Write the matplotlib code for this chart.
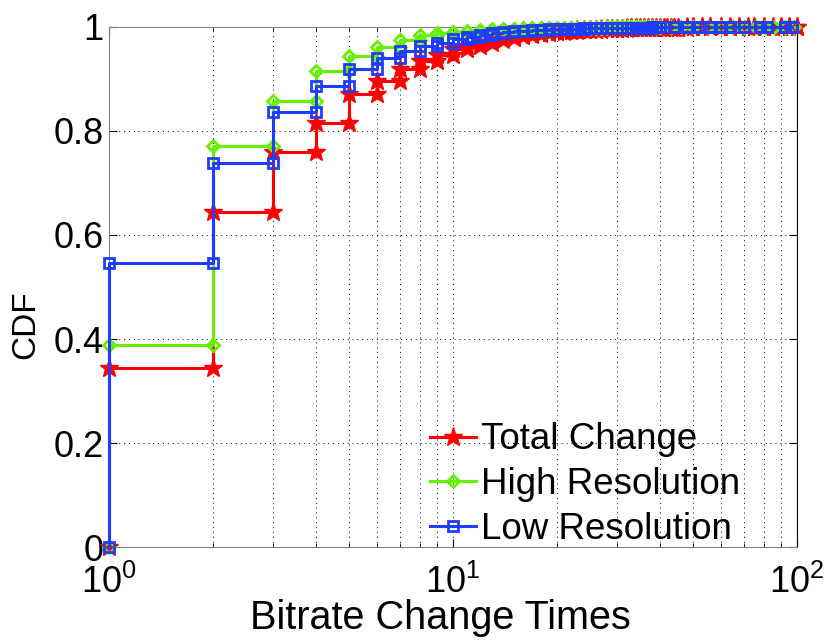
import numpy as np
import matplotlib.pyplot as plt
from matplotlib.ticker import LogLocator, NullFormatter

plt.rcParams['font.family'] = ['Liberation Sans', 'DejaVu Sans']
plt.rcParams['mathtext.fontset'] = 'custom'
plt.rcParams['mathtext.rm'] = 'Liberation Sans'

# number of bitrate changes (x) and CDF values
total_x = list(range(1, 46)) + [48, 50, 53, 56, 60, 64, 68, 72, 75, 80, 85, 90, 95, 100]
total_cdf = [.345, .645, .760, .815, .871, .897, .919, .935, .947, .957,
             .964, .970, .975, .979, .982, .985, .987, .989, .990, .991,
             .992, .993, .9935, .994, .9945, .995, .9955, .996, .9963, .9966,
             .9969, .9972, .9974, .9976, .9978, .998, .9982, .9983, .9984, .9985,
             .9986, .9987, .9988, .9989, .999,
             .9991, .9992, .9993, .9994, .9995, .9996, .9997, .99975, .9998,
             .99985, .9999, .99995, .99998, 1.0]

high_x = list(range(1, 41)) + [43, 46, 50, 55, 60, 65, 70, 76, 81, 86, 92, 98]
high_cdf = [.388, .771, .858, .916, .944, .962, .975, .984, .988, .991,
            .993, .995, .996, .9965, .997, .9973, .9976, .9978, .998, .9982,
            .9984, .9985, .9986, .9987, .9988, .9989, .999, .9991, .9992, .9993,
            .9994, .9995, .9995, .9996, .9996, .9997, .9997, .9998, .9998, .9998,
            .9999, .9999, .9999, .99992, .99994, .99995, .99996, .99997,
            .99998, .99999, .99999, 1.0]

low_x = list(range(1, 41)) + [44, 48, 52, 56, 60, 64, 70, 78, 82, 92, 97]
low_cdf = [.547, .738, .837, .887, .920, .941, .954, .963, .970, .976,
           .981, .985, .988, .990, .992, .993, .994, .995, .9955, .996,
           .9964, .9968, .997, .9972, .9974, .9976, .9978, .998, .9982, .9983,
           .9984, .9985, .9986, .9987, .9988, .9989, .999, .9991, .9992, .9993,
           .9994, .9995, .9996, .9997, .9997, .9998, .9998, .9999, .9999,
           .99995, 1.0]


def stair(x, y):
    # corner points of the staircase, starting from 0
    prev = [0.0] + list(y[:-1])
    xs = np.repeat(x, 2)
    ys = np.column_stack([prev, y]).ravel()
    return xs, ys


fig = plt.figure(figsize=(8.3, 6.44), dpi=100)
ax = fig.add_axes([0.1313, 0.1506, 0.8289, 0.8075])

lw = 2.2
xs, ys = stair(total_x, total_cdf)
ax.plot(xs, ys, '-', color='#ff0000', lw=lw, marker='*', ms=14,
        mfc='#ff0000', mec='#ff0000', label='Total Change', clip_on=False, zorder=3)
xs, ys = stair(high_x, high_cdf)
ax.plot(xs, ys, '-', color='#66f000', lw=lw, marker='D', ms=6.5,
        mfc='none', mec='#66f000', mew=2, label='High Resolution', clip_on=False, zorder=4)
xs, ys = stair(low_x, low_cdf)
ax.plot(xs, ys, '-', color='#1f3cff', lw=lw, marker='s', ms=7,
        mfc='none', mec='#1f3cff', mew=2, label='Low Resolution', clip_on=False, zorder=5)

ax.set_xscale('log')
ax.set_xlim(1, 100)
ax.set_ylim(0, 1)
ax.set_yticks(np.arange(0, 1.01, 0.2))
ax.set_yticklabels(['0', '0.2', '0.4', '0.6', '0.8', '1'])
ax.xaxis.set_minor_locator(LogLocator(base=10, subs=np.arange(2, 10)))
ax.xaxis.set_minor_formatter(NullFormatter())

ax.tick_params(which='both', direction='in', top=True, right=True, labelsize=26)
ax.tick_params(which='major', length=6, width=0.8)
ax.tick_params(which='minor', length=3, width=0.6)
ax.tick_params(axis='x', pad=13)
ax.tick_params(axis='y', pad=4)

gstyle = dict(linestyle=(0, (1, 4)), color='k', linewidth=0.7)
ax.grid(True, which='major', **gstyle)
ax.grid(True, which='minor', axis='x', **gstyle)
ax.set_axisbelow(True)

for s in ['left', 'bottom', 'top']:
    ax.spines[s].set_color('#808080')
ax.spines['right'].set_color('k')

ax.set_xlabel('Bitrate Change Times', fontsize=28.5, labelpad=1)
ax.xaxis.set_label_coords(0.481, -0.1)
ax.xaxis.label.set_va('top')
ax.set_ylabel('CDF', fontsize=24)
ax.yaxis.set_label_coords(-0.098, 0.427)

ax.legend(loc='upper left', bbox_to_anchor=(0.518, 0.344), bbox_transform=fig.transFigure,
          frameon=False, fontsize=26.5, handlelength=1.25, handletextpad=0.15,
          labelspacing=0.26, borderpad=0, borderaxespad=0)

fig.savefig('out.png', dpi=100)
